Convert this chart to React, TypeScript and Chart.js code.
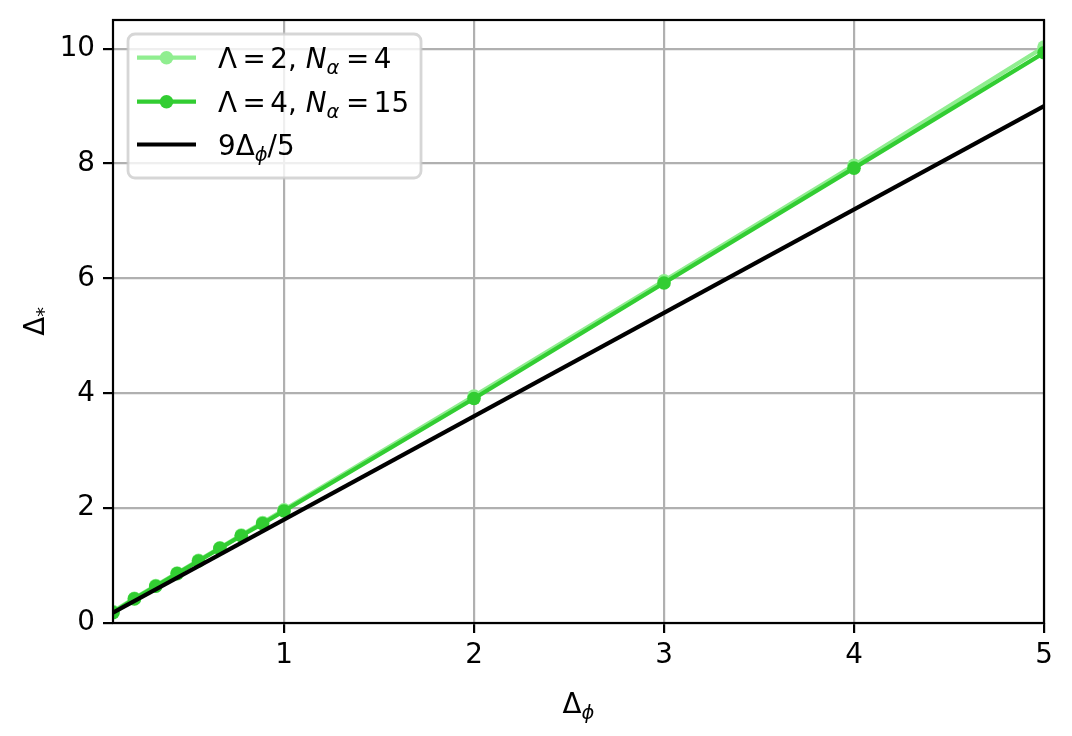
import React, { useEffect, useRef } from "react";
import { Chart, registerables } from "chart.js";

Chart.register(...registerables);

// ---- data ----
const deltaPhi = [0.1, 0.2125, 0.325, 0.4375, 0.55, 0.6625, 0.775, 0.8875, 1, 2, 3, 4, 5];
const lambda2Values = [0.2, 0.43, 0.65, 0.87, 1.09, 1.31, 1.53, 1.75, 1.97, 3.95, 5.96, 7.97, 10.03];
const lambda4Values = [0.18, 0.42, 0.64, 0.86, 1.08, 1.3, 1.52, 1.73, 1.95, 3.91, 5.92, 7.92, 9.93];
const refX = [0.1, 5];
const refY = [0.18, 9];
const xTicks = [1, 2, 3, 4, 5];
const yTicks = [0, 2, 4, 6, 8, 10];

const FONT = '"DejaVu Sans"';
const FS = 27.8;

type Seg = { t: string; it?: boolean; sub?: boolean; gap?: number };

function segFont(s: Seg) {
  const size = s.sub ? FS * 0.7 : FS;
  return `${s.it ? "italic " : ""}${size}px ${FONT}`;
}

function richWidth(ctx: CanvasRenderingContext2D, segs: Seg[]) {
  let w = 0;
  for (const s of segs) {
    ctx.font = segFont(s);
    w += (s.gap || 0) + ctx.measureText(s.t).width;
  }
  return w;
}

function drawRich(ctx: CanvasRenderingContext2D, segs: Seg[], x: number, y: number, align: "left" | "center") {
  const w = richWidth(ctx, segs);
  let cx = align === "center" ? x - w / 2 : x;
  ctx.textAlign = "left";
  ctx.textBaseline = "alphabetic";
  ctx.fillStyle = "#000";
  for (const s of segs) {
    ctx.font = segFont(s);
    cx += s.gap || 0;
    ctx.fillText(s.t, cx, y + (s.sub ? FS * 0.22 : 0));
    cx += ctx.measureText(s.t).width;
  }
}

const labelSegs = (lam: string, n: string): Seg[] => [
  { t: "Λ" },
  { t: "=", gap: 5.5 },
  { t: lam, gap: 4.5 },
  { t: "," },
  { t: "N", it: true, gap: 9 },
  { t: "α", it: true, sub: true },
  { t: "=", gap: 6.5 },
  { t: n, gap: 4.5 },
];

const legendItems = [
  { color: "#90ee90", marker: true, segs: labelSegs("2", "4") },
  { color: "#32cd32", marker: true, segs: labelSegs("4", "15") },
  { color: "#000000", marker: false, segs: [{ t: "9Δ" }, { t: "ϕ", it: true, sub: true }, { t: "/5" }] as Seg[] },
];

const overlayPlugin = {
  id: "overlay",
  afterDatasetsDraw(chart: any) {
    const { ctx, chartArea } = chart;
    const { left, right, top, bottom } = chartArea;
    ctx.save();
    ctx.strokeStyle = "#000";
    ctx.lineWidth = 2.2;
    ctx.strokeRect(left, top, right - left, bottom - top);
    ctx.restore();
  },
  afterDraw(chart: any) {
    const { ctx, chartArea } = chart;
    const { left, right, top, bottom } = chartArea;
    ctx.save();
    // axis titles
    drawRich(ctx, [{ t: "Δ" }, { t: "ϕ", it: true, sub: true }], (left + right) / 2, 713, "center");
    ctx.save();
    ctx.translate(44, (top + bottom) / 2);
    ctx.rotate(-Math.PI / 2);
    drawRich(ctx, [{ t: "Δ" }, { t: "*", sub: true }], 0, 0, "center");
    ctx.restore();

    // legend
    const bx = 128, by = 34, bw = 293, bh = 144, r = 7;
    ctx.beginPath();
    ctx.moveTo(bx + r, by);
    ctx.arcTo(bx + bw, by, bx + bw, by + bh, r);
    ctx.arcTo(bx + bw, by + bh, bx, by + bh, r);
    ctx.arcTo(bx, by + bh, bx, by, r);
    ctx.arcTo(bx, by, bx + bw, by, r);
    ctx.closePath();
    ctx.fillStyle = "rgba(255,255,255,0.8)";
    ctx.fill();
    ctx.strokeStyle = "rgba(204,204,204,0.8)";
    ctx.lineWidth = 2.8;
    ctx.stroke();

    const rows = [57.7, 101.7, 144.5];
    legendItems.forEach((item, i) => {
      const ry = rows[i];
      ctx.strokeStyle = item.color;
      ctx.lineWidth = 4.2;
      ctx.beginPath();
      ctx.moveTo(137, ry);
      ctx.lineTo(196, ry);
      ctx.stroke();
      if (item.marker) {
        ctx.fillStyle = item.color;
        ctx.beginPath();
        ctx.arc(166.5, ry, 6.8, 0, Math.PI * 2);
        ctx.fill();
      }
      drawRich(ctx, item.segs, 218, ry + 10.5, "left");
    });
    ctx.restore();
  },
};

export default function App() {
  const ref = useRef<HTMLCanvasElement>(null);
  useEffect(() => {
    if (!ref.current) return;
    const mk = (ys: number[]) => deltaPhi.map((x, i) => ({ x, y: ys[i] }));
    const chart = new Chart(ref.current, {
      type: "line",
      data: {
        datasets: [
          {
            label: "Λ=2, Nα=4",
            data: mk(lambda2Values),
            borderColor: "#90ee90",
            backgroundColor: "#90ee90",
            borderWidth: 4.2,
            pointRadius: 6.8,
            pointBorderWidth: 0,
            pointBackgroundColor: "#90ee90",
            order: 2,
            clip: 0,
          },
          {
            label: "Λ=4, Nα=15",
            data: mk(lambda4Values),
            borderColor: "#32cd32",
            backgroundColor: "#32cd32",
            borderWidth: 4.2,
            pointRadius: 6.8,
            pointBorderWidth: 0,
            pointBackgroundColor: "#32cd32",
            order: 1,
            clip: 0,
          },
          {
            label: "9Δφ/5",
            data: refX.map((x, i) => ({ x, y: refY[i] })),
            borderColor: "#000000",
            borderWidth: 4.2,
            pointRadius: 0,
            order: 0,
            clip: 0,
          },
        ],
      },
      options: {
        animation: false,
        responsive: false,
        maintainAspectRatio: false,
        layout: { padding: { left: 0, top: 20, right: 28, bottom: 0 } },
        plugins: { legend: { display: false }, tooltip: { enabled: false } },
        scales: {
          x: {
            type: "linear",
            min: 0.1,
            max: 5,
            afterBuildTicks: (s: any) => {
              s.ticks = xTicks.map((v) => ({ value: v }));
            },
            afterFit: (s: any) => {
              s.height = 113;
              s.paddingLeft = 0;
              s.paddingRight = 0;
            },
            grid: { color: "#b0b0b0", lineWidth: 2.2, tickColor: "#000", tickLength: 10, tickWidth: 2.2 },
            border: { display: false },
            ticks: { color: "#000", font: { family: "DejaVu Sans", size: FS }, padding: 6, maxRotation: 0 },
          },
          y: {
            type: "linear",
            min: 0,
            max: 10.5,
            afterBuildTicks: (s: any) => {
              s.ticks = yTicks.map((v) => ({ value: v }));
            },
            afterFit: (s: any) => {
              s.width = 113;
              s.paddingTop = 0;
              s.paddingBottom = 0;
            },
            grid: { color: "#b0b0b0", lineWidth: 2.2, tickColor: "#000", tickLength: 10, tickWidth: 2.2 },
            border: { display: false },
            ticks: { color: "#000", font: { family: "DejaVu Sans", size: FS }, padding: 8 },
          },
        },
      },
      plugins: [overlayPlugin],
    } as any);
    return () => chart.destroy();
  }, []);
  return (
    <div style={{ position: "fixed", left: 0, top: 0, width: 1072, height: 736, background: "#fff" }}>
      <canvas ref={ref} width={1072} height={736} />
    </div>
  );
}
